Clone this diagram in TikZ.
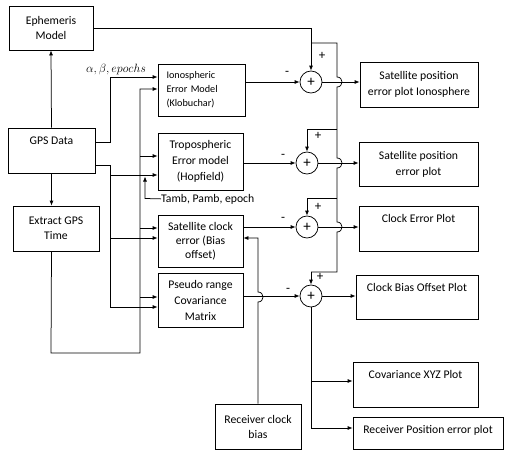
\documentclass[tikz,border=0pt]{standalone}
\usepackage{fontspec}
\setmainfont{Carlito}
\usetikzlibrary{arrows.meta}
\begin{document}
\begin{tikzpicture}[x=1pt,y=-1pt,
  box/.style={draw,line width=0.75pt,inner sep=0pt,align=center,
    font=\fontsize{11.7}{15}\selectfont},
  topbox/.style={box,inner ysep=3pt,text height=13pt,text depth=#1},
  sumj/.style={draw,circle,line width=0.75pt,minimum size=22pt,inner sep=0pt,
    font=\fontsize{15}{15}\selectfont},
  conn/.style={line width=0.75pt},
  arr/.style={conn,-{Latex[length=5pt,width=4pt]}},
  sgn/.style={inner sep=0pt,font=\fontsize{13}{13}\selectfont},
]
\useasboundingbox (0,0) rectangle (505,452);
% left column
\node[box,minimum width=84pt,minimum height=44pt] (eph) at (51,28) {Ephemeris\\Model};
\node[topbox=26pt,minimum width=87pt] (gps) at (51.5,150.5) {GPS Data};
\node[box,minimum width=86pt,minimum height=45pt] (ext) at (56,228.5) {Extract GPS\\Time};
% middle column
\node[box,minimum width=87pt,minimum height=52pt,text width=70pt,align=left,
  font=\fontsize{10.2}{14}\selectfont] (iono) at (201.5,90) {Ionospheric\\Error Model\\(Klobuchar)};
\node[box,minimum width=85pt,minimum height=57pt,font=\fontsize{11.7}{16}\selectfont] (tropo) at (200.5,161.5) {Tropospheric\\Error model\\(Hopfield)};
\node[box,minimum width=85pt,minimum height=52pt,font=\fontsize{11.7}{14}\selectfont] (sclk) at (200.5,241) {Satellite clock\\error (Bias\\offset)};
\node[box,minimum width=85pt,minimum height=54pt,font=\fontsize{11.7}{16}\selectfont] (pseudo) at (200.5,300) {Pseudo range\\Covariance\\Matrix};
\node[box,minimum width=86pt,minimum height=45pt] (rcb) at (258,426.5) {Receiver clock\\bias};
% right column
\node[box,minimum width=118pt,minimum height=45pt,font=\fontsize{11.7}{16}\selectfont] (o1) at (419,84.5) {Satellite position\\error plot Ionosphere};
\node[box,minimum width=119pt,minimum height=44pt,font=\fontsize{11.7}{16}\selectfont] (o2) at (418.5,164) {Satellite position\\error plot};
\node[topbox=26pt,minimum width=119pt] (o3) at (418.5,228.5) {Clock Error Plot};
\node[topbox=25pt,minimum width=122pt] (o4) at (417,297) {Clock Bias Offset Plot};
\node[topbox=26pt,minimum width=125pt] (o5) at (415.5,384.5) {Covariance XYZ Plot};
\node[topbox=13pt,minimum width=150pt] (o6) at (428,433) {Receiver Position error plot};
% summing junctions
\node[sumj] (s1) at (311,82) {+};
\node[sumj] (s2) at (307,163) {+};
\node[sumj] (s3) at (307,227) {+};
\node[sumj] (s4) at (311,296) {+};
% signs
\node[sgn] (p1) at (322,56) {+};
\node[sgn] (m1) at (287,73) {-};
\node[sgn] (p2) at (318,136) {+};
\node[sgn] (m2) at (283,156) {-};
\node[sgn] (p3) at (318,207) {+};
\node[sgn] (m3) at (283,219) {-};
\node[sgn] (p4) at (320,277) {+};
\node[sgn] (m4) at (288,290) {-};
% labels
\node[inner sep=0pt,font=\fontsize{13}{13}\selectfont] (ab) at (116,69) {$\alpha, \beta, epochs$};
\node[anchor=base west,inner sep=0pt,font=\fontsize{11.7}{14}\selectfont] (tamb) at (161,202) {Tamb, Pamb, epoch};
% ephemeris bus
\coordinate (b0) at (311,43);
\draw[arr] (eph.east) -| (s1.north);
\draw[conn] (b0) -- (337,43) -- (337,77)
  .. controls (343.7,77) and (343.7,87) .. (337,87) -- (337,158)
  .. controls (343.7,158) and (343.7,168) .. (337,168) -- (337,222)
  .. controls (343.7,222) and (343.7,232) .. (337,232) -- (337,272) -- (311,272);
\draw[arr] (311,272) -- (s4.north);
\draw[arr] (337,129) -| (s2.north);
\draw[arr] (337,198) -| (s3.north);
% model outputs into junctions
\draw[arr] (iono.east |- s1.west) -- (s1.west);
\draw[arr] (tropo.east |- s2.west) -- (s2.west);
\draw[arr] (sclk.east |- s3.west) -- (s3.west);
\draw[arr] (pseudo.east |- s4.west) -- (s4.west);
% junction outputs
\draw[arr] (s1.east) -- (o1.west |- s1.east);
\draw[arr] (s2.east) -- (o2.west |- s2.east);
\draw[arr] (s3.east) -- (o3.west |- s3.east);
\draw[arr] (s4.east) -- (o4.west |- s4.east);
\draw[conn] (s4.south) -- (311,381);
\draw[arr] (311,381) -- (o5.west |- 0,381);
\draw[arr] (311,381) |- (o6.west |- 0,428);
% receiver clock bias
\draw[arr] (rcb.north) -- (258,302)
  .. controls (264.7,302) and (264.7,292) .. (258,292) -- (258,238) -- (sclk.east |- 0,238);
% GPS data
\draw[arr] (gps.north) -- (eph.south);
\draw[arr] (gps.south) -- (gps.south |- ext.north);
\draw[arr] (gps.east |- 0,142) -- (110,142) |- (iono.west |- 0,77);
\draw[arr] (gps.east |- 0,165) -- (110,165) |- (pseudo.west |- 0,307);
\draw[arr] (110,175) -- (tropo.west |- 0,175);
\draw[arr] (110,238) -- (sclk.west |- 0,238);
% extract GPS time
\draw[arr] (gps.south |- ext.south) -- (51,353) -| (140,89) -- (iono.west |- 0,89);
\draw[arr] (140,156) -- (tropo.west |- 0,156);
\draw[arr] (140,228) -- (sclk.west |- 0,228);
\draw[arr] (140,297) -- (pseudo.west |- 0,297);
% Tamb
\draw[arr] (tamb.west) -- (145,198.5) -- (145,176.5);
\end{tikzpicture}
\end{document}
